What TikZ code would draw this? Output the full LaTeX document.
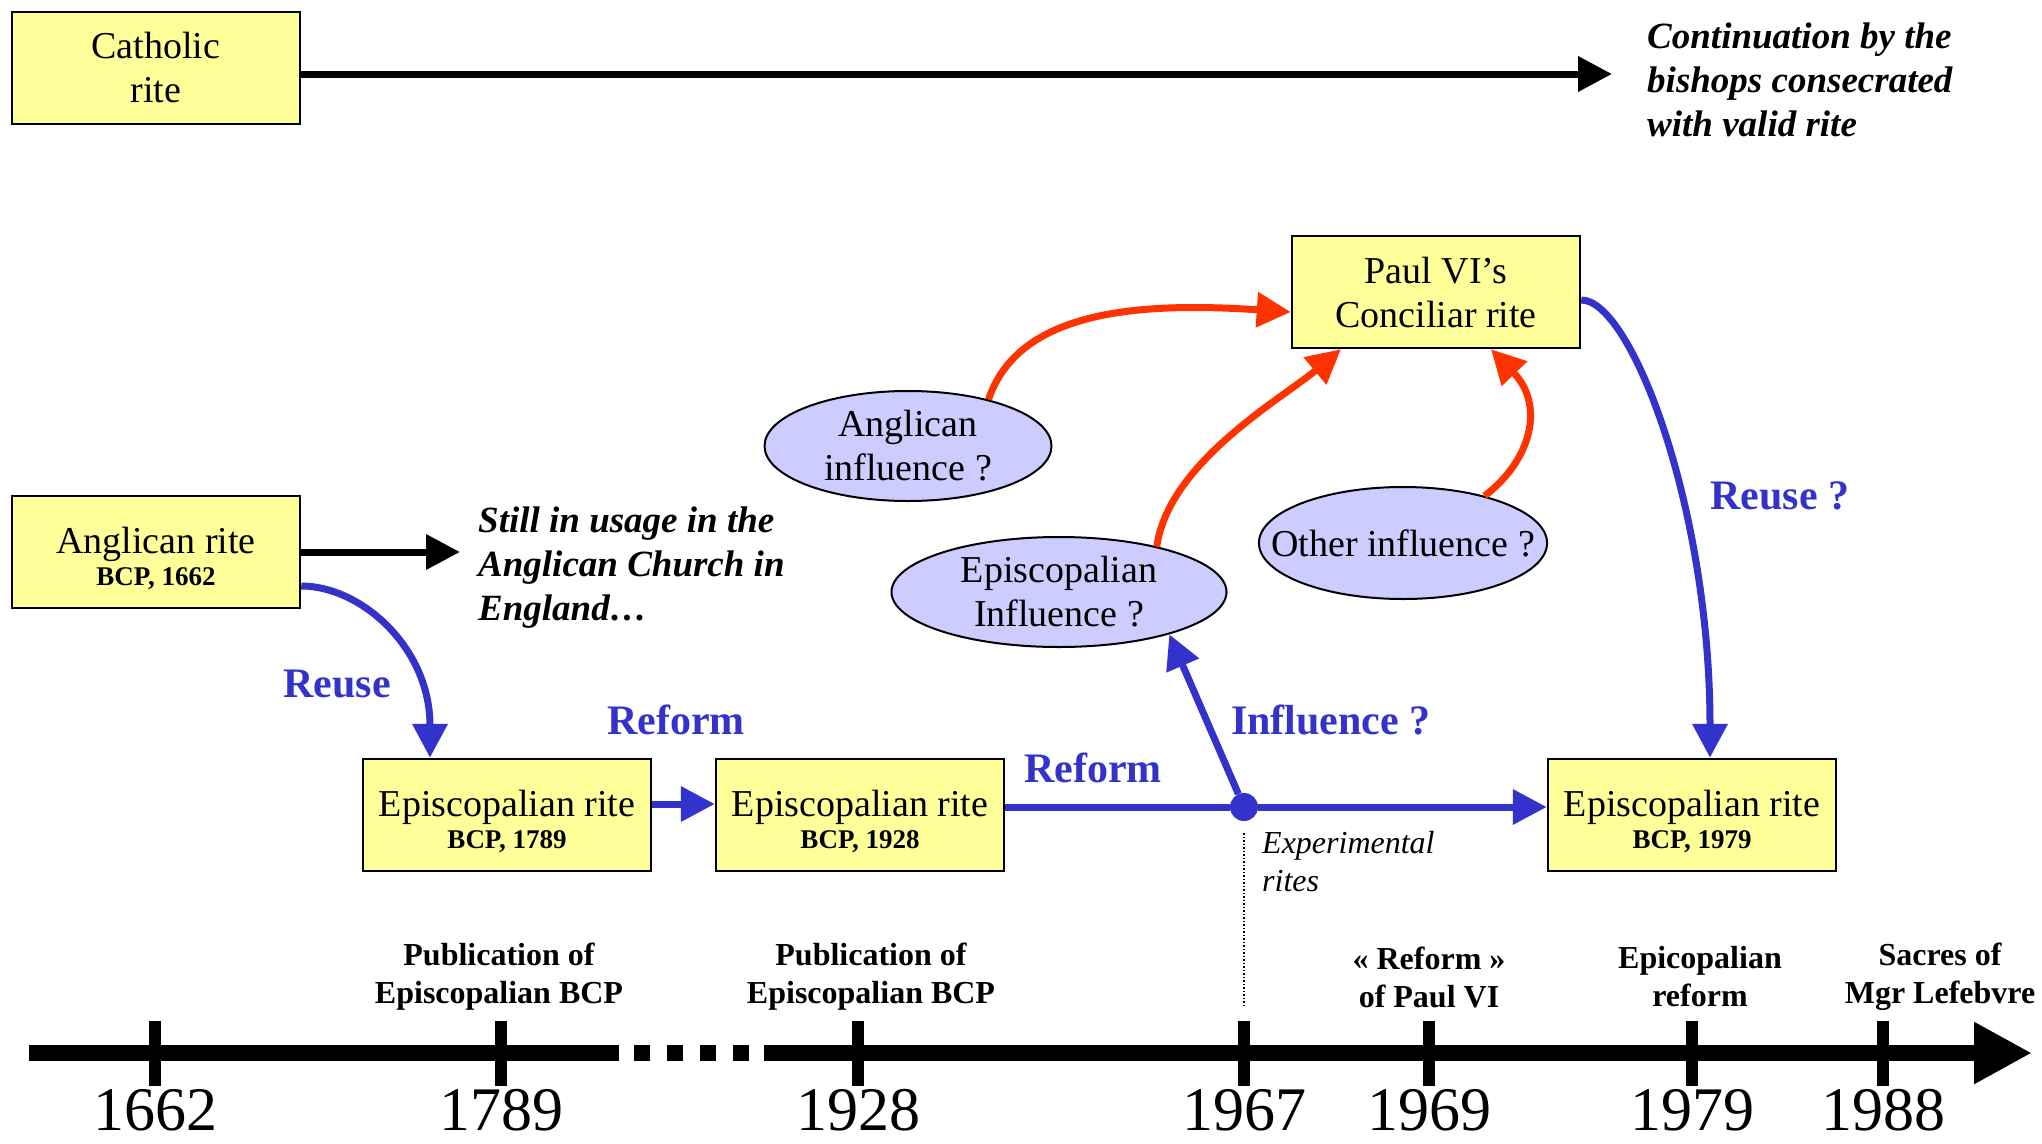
\documentclass[tikz,border=0pt]{standalone}
\usepackage{fontspec}
\setmainfont{Liberation Serif}
\usetikzlibrary{arrows.meta,shapes.geometric}
\definecolor{riteyellow}{HTML}{FFFF99}
\definecolor{inflblue}{HTML}{CCCCFF}
\definecolor{linkblue}{HTML}{3333CC}
\definecolor{linkred}{HTML}{FF3300}
\newcommand{\fsz}[2]{\fontsize{#1}{#2}\selectfont}
\newcommand{\bcp}[2]{\rule{0pt}{40pt}#1\\[-12pt]{\fsz{27}{30}\bfseries BCP, #2}}
\begin{document}
\begin{tikzpicture}[x=1pt, y=1pt, >={Triangle[length=34pt,width=34pt]},
    rite/.style={draw, line width=2.5pt, fill=riteyellow, minimum width=288, minimum height=112, align=center, font=\fsz{38}{44}},
    infl/.style={ellipse, draw, line width=2pt, fill=inflblue, inner xsep=-30pt, inner ysep=-10pt, align=center, font=\fsz{38}{44}},
    note/.style={inner sep=0, align=left, anchor=west, font=\fsz{37}{44}\bfseries\itshape},
    lbl/.style={text=linkblue, inner sep=0, font=\fsz{42}{48}\bfseries},
    blk/.style={->, line width=7pt},
    blu/.style={->, line width=7pt, linkblue},
    redarr/.style={->, line width=7pt, linkred},
    event/.style={align=center, inner sep=0, font=\fsz{32}{38}\bfseries},
    year/.style={inner sep=0, font=\fsz{62}{68}}]
\useasboundingbox (0,0) rectangle (2042,-1143);

\node[rite] (cath) at (156,-68) {Catholic\\rite};
\node[note] (cont) at (1647,-80) {Continuation by the\\bishops consecrated\\with valid rite};
\draw[blk, shorten >=35pt] ([yshift=-6pt]cath.east) -- ([yshift=-6pt]cath.east -| cont.west);

\node[rite] (angl) at (156,-552) {\bcp{Anglican rite}{1662}};
\node[note] (still) at (478,-568) {Still in usage in the\\Anglican Church in\\England…};
\draw[blk, shorten >=18pt] (angl.east) -- (angl.east -| still.west);

\node[rite] (ep1) at (507,-815) {\bcp{Episcopalian rite}{1789}};
\node[rite] (ep2) at (860,-815) {\bcp{Episcopalian rite}{1928}};
\node[rite] (ep3) at (1692,-815) {\bcp{Episcopalian rite}{1979}};
\node[rite] (paul) at (1436,-292) {Paul VI’s\\Conciliar rite};

\node[infl, minimum width=287, minimum height=110] (angi) at (908,-446) {Anglican\\influence ?};
\node[infl, minimum width=335, minimum height=110] (epi) at (1059,-592) {Episcopalian\\Influence ?};
\node[infl, minimum width=288, minimum height=112] (oth) at (1403,-543) {Other influence ?};

\node[circle, fill=linkblue, minimum size=28, inner sep=0] (exp) at (1244,-807) {};
\node[inner sep=0, align=left, anchor=west, font=\fsz{32}{38}\itshape] (expl) at (1262,-862) {Experimental\\rites};

% reuse and reform
\draw[blu] ([yshift=-34pt]angl.east) .. controls +(60,0) and +(0,110) .. ([xshift=-77pt]ep1.north);
\draw[blu] ([yshift=11pt]ep1.east) -- ([yshift=11pt]ep2.west);
\draw[line width=7pt, linkblue] ([yshift=8pt]ep2.east) -- (exp);
\draw[blu] (exp) -- ([yshift=8pt]ep3.west);
\draw[blu] (exp) -- (epi.-21);
\draw[blu] ([yshift=-8pt]paul.east) .. controls +(50,0) and +(0,250) .. ([xshift=18pt]ep3.north);

% influences
\draw[redarr] (angi.30) .. controls +(30,90) and +(-150,10) .. ([yshift=-20pt]paul.west);
\draw[redarr] (epi.25) .. controls +(12,84) and +(-60,-50) .. ([xshift=-95pt]paul.south);
\draw[redarr] (oth.30) .. controls +(47,36) and +(54,-56) .. ([xshift=55pt]paul.south);

\node[lbl] (lreuse) at (337,-684) {Reuse};
\node[lbl] (lrefa) at (676,-720) {Reform};
\node[lbl] (lrefb) at (1093,-768) {Reform};
\node[lbl] (linf) at (1331,-720) {Influence ?};
\node[lbl] (lreuseb) at (1780,-496) {Reuse ?};

% time line
\coordinate (dotend) at (1244,-1005);
\draw[dotted, line width=1.5pt] ([yshift=-12pt]exp.south) -- (dotend);
\draw[line width=16pt] (29,-1053) -- (619,-1053);
\foreach \x in {634,667,700,733}
    \fill (\x,-1045) rectangle +(16,-16);
\draw[line width=16pt, -{Triangle[length=58pt,width=58pt]}] (764,-1053) -- (2032,-1053);
\foreach \x/\yr in {155/1662, 501/1789, 858/1928, 1244/1967, 1429/1969, 1692/1979, 1883/1988}
{
    \draw[line width=12pt] (\x,-1021) -- (\x,-1086);
    \node[year] (y\yr) at (\x,-1110) {\yr};
}
\foreach \x/\ev [count=\i] in {499/{Publication of\\Episcopalian BCP}, 871/{Publication of\\Episcopalian BCP}, 1429/{« Reform »\\of Paul VI}, 1700/{Epicopalian\\reform}, 1940/{Sacres of\\Mgr Lefebvre}}
    \node[event] (ev\i) at (\x,-977) {\ev};

\end{tikzpicture}
\end{document}
